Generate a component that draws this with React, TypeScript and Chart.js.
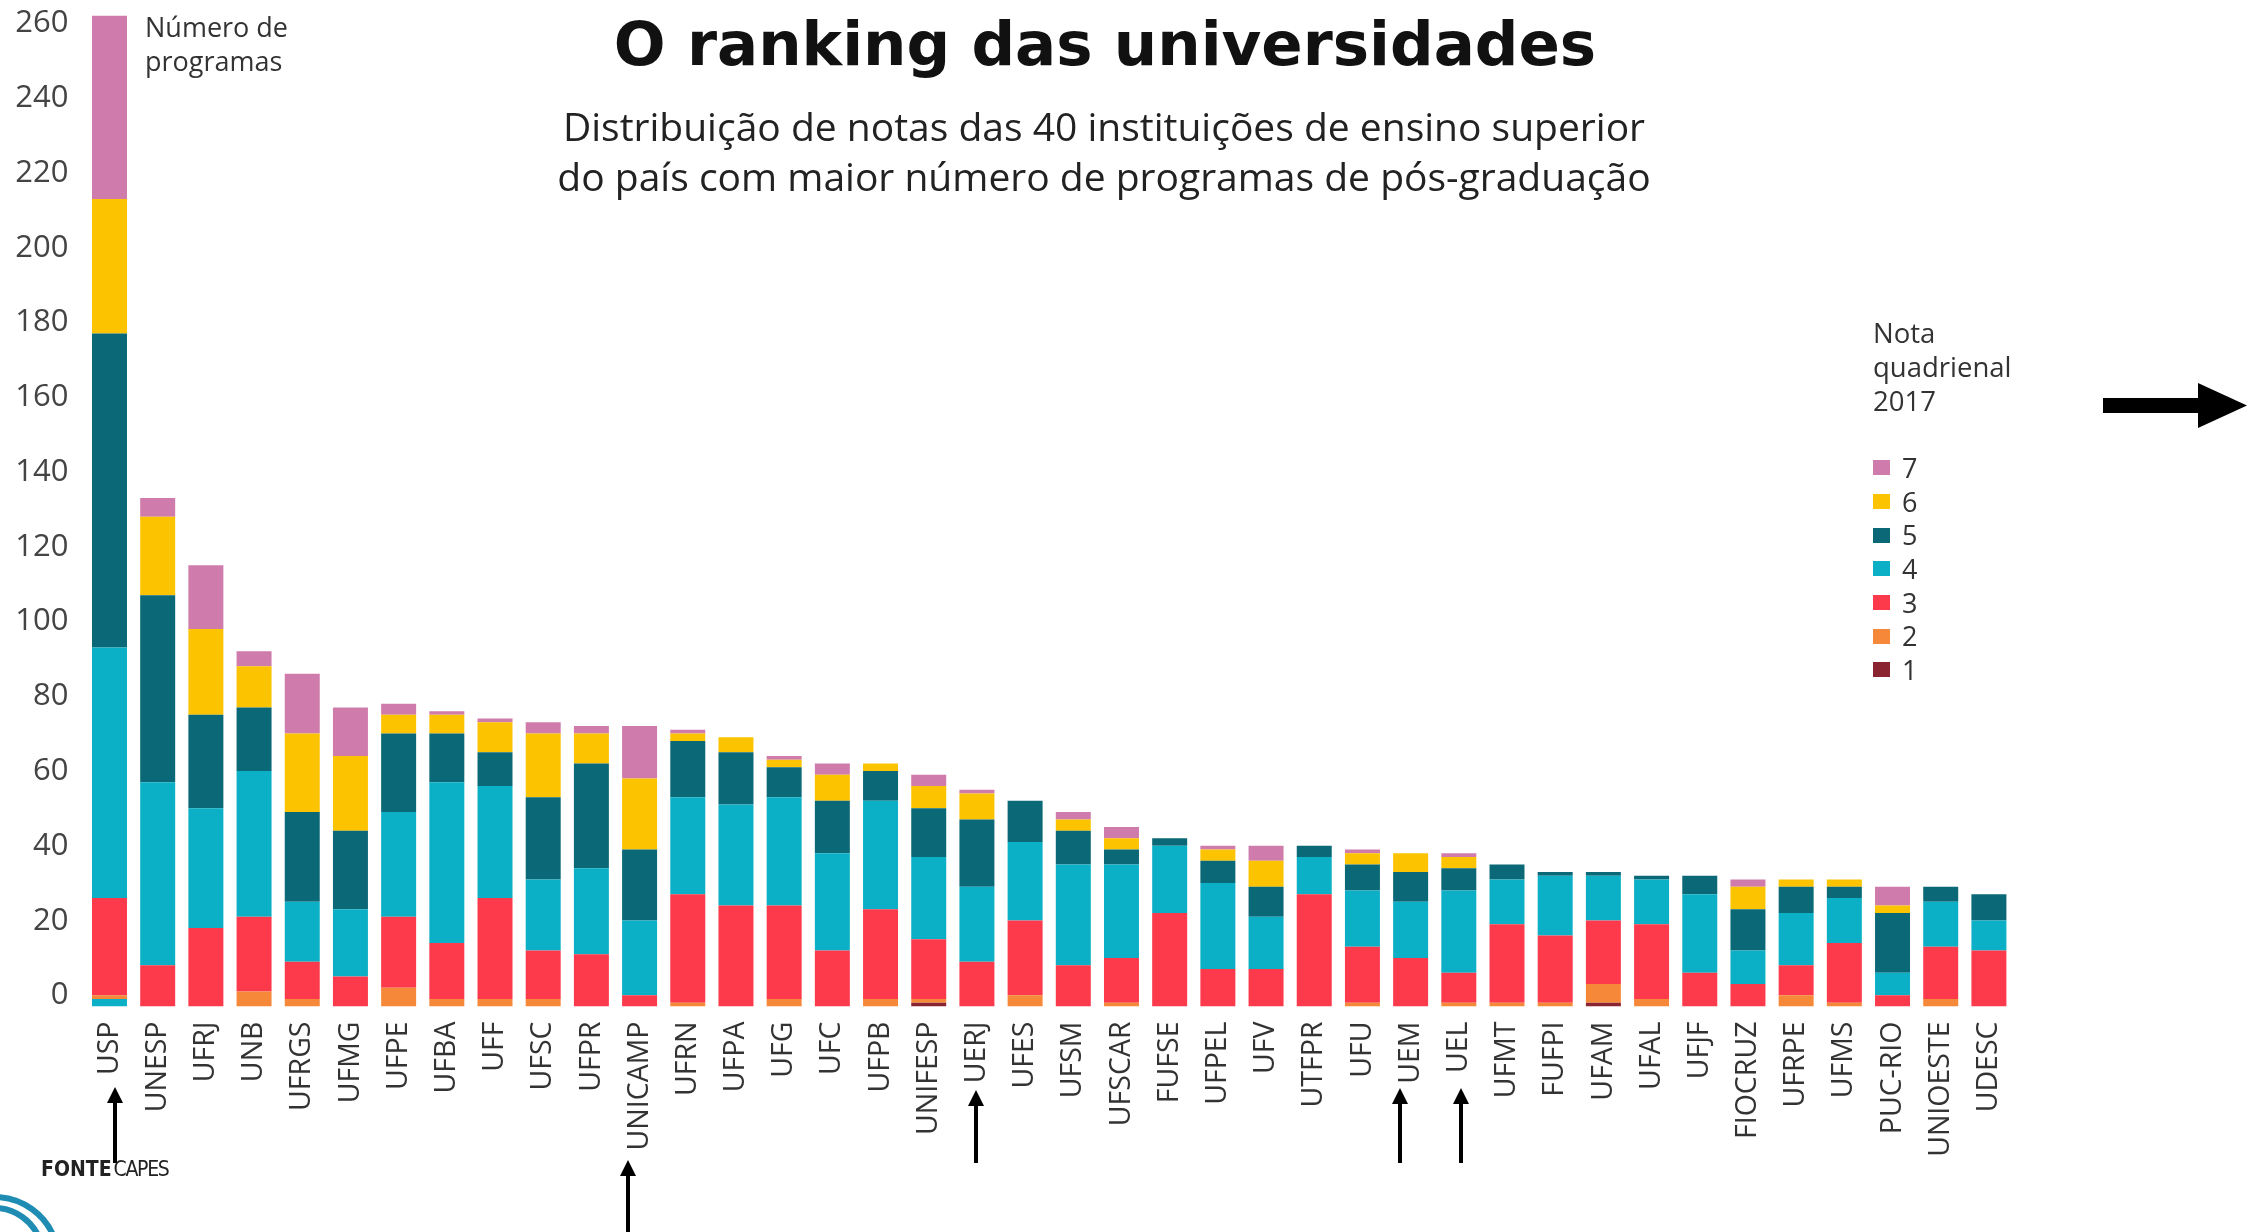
import React, { useEffect, useRef } from 'react';
import { Chart, registerables } from 'chart.js';

Chart.register(...registerables);

// ---------- DATA ----------
const categories = [
  'USP', 'UNESP', 'UFRJ', 'UNB', 'UFRGS', 'UFMG', 'UFPE', 'UFBA', 'UFF', 'UFSC',
  'UFPR', 'UNICAMP', 'UFRN', 'UFPA', 'UFG', 'UFC', 'UFPB', 'UNIFESP', 'UERJ', 'UFES',
  'UFSM', 'UFSCAR', 'FUFSE', 'UFPEL', 'UFV', 'UTFPR', 'UFU', 'UEM', 'UEL', 'UFMT',
  'FUFPI', 'UFAM', 'UFAL', 'UFJF', 'FIOCRUZ', 'UFRPE', 'UFMS', 'PUC-RIO', 'UNIOESTE', 'UDESC',
];

// small cyan strip drawn at the very bottom of the USP bar in the original
const nota4Base = [2, 0, 0, 0, 0, 0, 0, 0, 0, 0, 0, 0, 0, 0, 0, 0, 0, 0, 0, 0, 0, 0, 0, 0, 0, 0, 0, 0, 0, 0, 0, 0, 0, 0, 0, 0, 0, 0, 0, 0];
const nota1 = [0, 0, 0, 0, 0, 0, 0, 0, 0, 0, 0, 0, 0, 0, 0, 0, 0, 1, 0, 0, 0, 0, 0, 0, 0, 0, 0, 0, 0, 0, 0, 1, 0, 0, 0, 0, 0, 0, 0, 0];
const nota2 = [1, 0, 0, 4, 2, 0, 5, 2, 2, 2, 0, 0, 1, 0, 2, 0, 2, 1, 0, 3, 0, 1, 0, 0, 0, 0, 1, 0, 1, 1, 1, 5, 2, 0, 0, 3, 1, 0, 2, 0];
const nota3 = [26, 11, 21, 20, 10, 8, 19, 15, 27, 13, 14, 3, 29, 27, 25, 15, 24, 16, 12, 20, 11, 12, 25, 10, 10, 30, 15, 13, 8, 21, 18, 17, 20, 9, 6, 8, 16, 3, 14, 15];
const nota4 = [67, 49, 32, 39, 16, 18, 28, 43, 30, 19, 23, 20, 26, 27, 29, 26, 29, 22, 20, 21, 27, 25, 18, 23, 14, 10, 15, 15, 22, 12, 16, 12, 12, 21, 9, 14, 12, 6, 12, 8];
const nota5 = [84, 50, 25, 17, 24, 21, 21, 13, 9, 22, 28, 19, 15, 14, 8, 14, 8, 13, 18, 11, 9, 4, 2, 6, 8, 3, 7, 8, 6, 4, 1, 1, 1, 5, 11, 7, 3, 16, 4, 7];
const nota6 = [36, 21, 23, 11, 21, 20, 5, 5, 8, 17, 8, 19, 2, 4, 2, 7, 2, 6, 7, 0, 3, 3, 0, 3, 7, 0, 3, 5, 3, 0, 0, 0, 0, 0, 6, 2, 2, 2, 0, 0];
const nota7 = [49, 5, 17, 4, 16, 13, 3, 1, 1, 3, 2, 14, 1, 0, 1, 3, 0, 3, 1, 0, 2, 3, 0, 1, 4, 0, 1, 0, 1, 0, 0, 0, 0, 0, 2, 0, 0, 5, 0, 0];

const yTickValues = [0, 20, 40, 60, 80, 100, 120, 140, 160, 180, 200, 220, 240, 260];
const noteLabels = ['1', '2', '3', '4', '5', '6', '7'];

// ---------- STYLE ----------
const noteColors: Record<string, string> = {
  '1': '#8a2430',
  '2': '#f6883a',
  '3': '#fc3a4b',
  '4': '#0cb0c6',
  '5': '#0b6876',
  '6': '#fcc300',
  '7': '#cf7bab',
};

const W = 2257;
const H = 1232;
const PLOT_TOP = 4.5;
const PLOT_BOTTOM = 1006.5;
const PLOT_LEFT = 85.4;
const PLOT_RIGHT = 2013;

export default function App() {
  const canvasRef = useRef<HTMLCanvasElement | null>(null);

  useEffect(() => {
    const canvas = canvasRef.current;
    if (!canvas) return;
    const series = [nota1, nota2, nota3, nota4, nota5, nota6, nota7];
    const datasets: any[] = [
      { label: '4', data: nota4Base, backgroundColor: noteColors['4'] },
      ...series.map((d, i) => ({
        label: noteLabels[i],
        data: d,
        backgroundColor: noteColors[noteLabels[i]],
      })),
    ];
    const chart = new Chart(canvas, {
      type: 'bar',
      data: { labels: categories, datasets },
      options: {
        responsive: false,
        animation: false,
        devicePixelRatio: 1,
        layout: { padding: { top: PLOT_TOP, right: W - PLOT_RIGHT, left: 0, bottom: 0 } },
        plugins: {
          legend: { display: false },
          tooltip: { enabled: false },
          title: { display: false },
        },
        datasets: {
          bar: { barPercentage: 0.726, categoryPercentage: 1, borderWidth: 0 },
        },
        scales: {
          x: {
            stacked: true,
            offset: true,
            grid: { display: false, drawTicks: false },
            border: { display: false },
            ticks: {
              autoSkip: false,
              maxRotation: 90,
              minRotation: 90,
              padding: 15,
              color: '#333',
              font: { family: '"Open Sans", sans-serif', size: 28.5 },
            },
            afterFit: (s: any) => {
              s.height = H - PLOT_BOTTOM;
              s.paddingLeft = 0;
              s.paddingRight = 0;
            },
          },
          y: {
            stacked: true,
            min: 0,
            max: 268,
            grid: { display: false, drawTicks: false },
            border: { display: false },
            afterBuildTicks: (s: any) => {
              s.ticks = yTickValues.map((v) => ({ value: v }));
            },
            ticks: {
              padding: 17,
              labelOffset: -11,
              color: '#444',
              font: { family: '"Open Sans", sans-serif', size: 31 },
            },
            afterFit: (s: any) => {
              s.width = PLOT_LEFT;
              s.paddingTop = 0;
              s.paddingBottom = 0;
            },
          },
        },
      } as any,
    });
    return () => chart.destroy();
  }, []);

  const legendOrder = ['7', '6', '5', '4', '3', '2', '1'];
  const upArrows = [
    { x: 115, top: 1087, bottom: 1163 },
    { x: 628, top: 1160, bottom: 1232 },
    { x: 976, top: 1090, bottom: 1163 },
    { x: 1400, top: 1088, bottom: 1163 },
    { x: 1461, top: 1088, bottom: 1163 },
  ];

  return (
    <div
      style={{
        position: 'absolute',
        left: 0,
        top: 0,
        width: W,
        height: H,
        background: '#fff',
        overflow: 'hidden',
        fontFamily: '"Open Sans", sans-serif',
      }}
    >
      <canvas
        ref={canvasRef}
        width={W}
        height={H}
        style={{ position: 'absolute', left: 0, top: 0, width: W, height: H }}
      />

      {/* title */}
      <div
        style={{
          position: 'absolute',
          left: 1105 - 700,
          width: 1400,
          top: 9,
          textAlign: 'center',
          fontFamily: '"DejaVu Sans", sans-serif',
          fontWeight: 700,
          fontSize: 61,
          lineHeight: '70px',
          color: '#111',
          whiteSpace: 'nowrap',
        }}
      >
        O ranking das universidades
      </div>

      {/* subtitle */}
      <div
        style={{
          position: 'absolute',
          left: 1104 - 700,
          width: 1400,
          top: 101,
          textAlign: 'center',
          fontSize: 39,
          lineHeight: '50px',
          color: '#222',
          whiteSpace: 'nowrap',
        }}
      >
        <div>Distribuição de notas das 40 instituições de ensino superior</div>
        <div>do país com maior número de programas de pós-graduação</div>
      </div>

      {/* y axis caption */}
      <div
        style={{
          position: 'absolute',
          left: 145,
          top: 9.5,
          fontSize: 27,
          lineHeight: '34px',
          color: '#333',
        }}
      >
        <div>Número de</div>
        <div>programas</div>
      </div>

      {/* legend */}
      <div
        style={{
          position: 'absolute',
          left: 1873,
          top: 316,
          fontSize: 27.5,
          lineHeight: '34px',
          color: '#333',
        }}
      >
        <div>Nota</div>
        <div>quadrienal</div>
        <div>2017</div>
      </div>
      <div style={{ position: 'absolute', left: 1873, top: 451 }}>
        {legendOrder.map((k) => (
          <div
            key={k}
            style={{ display: 'flex', alignItems: 'center', height: 33.7 }}
          >
            <div style={{ width: 17, height: 15, background: noteColors[k] }} />
            <div style={{ marginLeft: 12, fontSize: 27, lineHeight: '33.7px', color: '#333' }}>{k}</div>
          </div>
        ))}
      </div>

      {/* source */}
      <div
        style={{
          position: 'absolute',
          left: 41,
          top: 1156,
          fontFamily: '"Liberation Sans Narrow", "DejaVu Sans Condensed", sans-serif',
          fontSize: 21,
          lineHeight: '26px',
          color: '#222',
          whiteSpace: 'nowrap',
        }}
      >
        <b>FONTE</b>
        <span style={{ marginLeft: 2, letterSpacing: -1.3 }}>CAPES</span>
      </div>

      {/* annotations */}
      <svg
        width={W}
        height={H}
        style={{ position: 'absolute', left: 0, top: 0, pointerEvents: 'none' }}
      >
        <rect x={2103} y={398} width={98} height={15} fill="#000" />
        <polygon points="2198,383 2247,405.5 2198,428" fill="#000" />
        {upArrows.map((a, i) => (
          <g key={i}>
            <polygon points={`${a.x - 8},${a.top + 16} ${a.x},${a.top} ${a.x + 8},${a.top + 16}`} fill="#000" />
            <rect x={a.x - 2} y={a.top + 14} width={4} height={a.bottom - a.top - 14} fill="#000" />
          </g>
        ))}
        <path d="M -5 1197 A 64 64 0 0 1 55 1240" fill="none" stroke="#1f8db3" strokeWidth={6} />
        <path d="M -5 1208 A 49 49 0 0 1 40 1240" fill="none" stroke="#1f8db3" strokeWidth={6} />
      </svg>
    </div>
  );
}
